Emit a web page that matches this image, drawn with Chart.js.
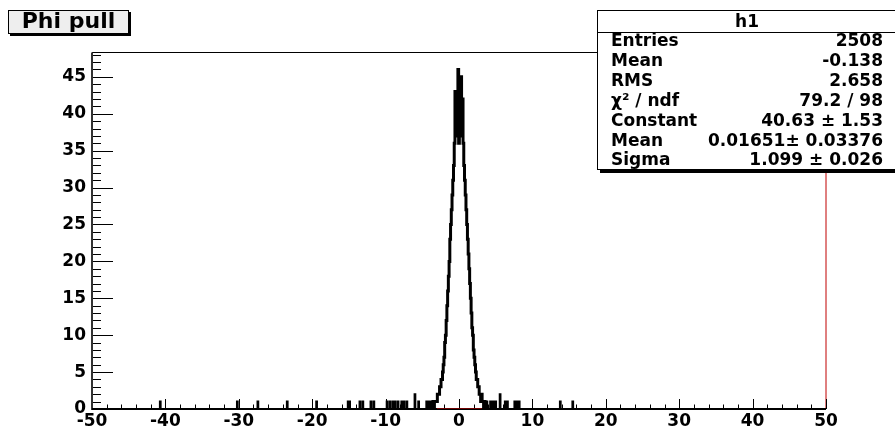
<!DOCTYPE html>
<html>
<head>
<meta charset="utf-8">
<script src="https://cdn.jsdelivr.net/npm/chart.js@4.4.1/dist/chart.umd.min.js"></script>
<style>
  body { margin: 0; background: #fff; }
  #wrap { position: relative; width: 895px; height: 429px; overflow: hidden; }
  #pull { position: absolute; left: 0; top: 0; }
  #title {
    position: absolute; left: 8px; top: 10px; width: 119px; height: 22px;
    border: 1px solid #000; box-shadow: 2px 2px 0 #000; background: #eee;
    font: bold 22px "DejaVu Sans"; line-height: 20px; text-align: center; color: #000;
  }
  #stats {
    position: absolute; left: 597px; top: 10px; width: 298px; height: 158px;
    border: 1px solid #000; box-shadow: 3px 3px 0 #000; background: #fff;
    font: bold 17px "DejaVu Sans"; color: #000;
  }
  #stats .hdr { height: 21px; line-height: 21px; text-align: center; border-bottom: 1px solid #000; }
  #stats .row {
    position: absolute; left: 13px; right: 13px; height: 20px; line-height: 20px;
    display: flex; justify-content: space-between; white-space: pre;
  }
</style>
</head>
<body>
<div id="wrap">
  <canvas id="pull" width="895" height="429"></canvas>
  <div id="title">Phi pull</div>
  <div id="stats"><div class="hdr">h1</div></div>
</div>
<script>
// histogram binning and axis labels
const binWidth = 0.1;
const xRange = [-50, 50];
const xTicks = [-50, -40, -30, -20, -10, 0, 10, 20, 30, 40, 50];
const yTicks = [0, 5, 10, 15, 20, 25, 30, 35, 40, 45];
const xMinorStep = 2;
const yMinorStep = 1;

// core of the distribution, bin contents from -3.6 to 3.6
const peakStart = -3.6;
const peakCounts = [
  0, 1, 0, 1, 1, 1, 1, 2, 2, 2,
  3, 3, 4, 4, 5, 6, 7, 9, 10, 12,
  14, 16, 18, 20, 23, 25, 27, 29, 31, 33,
  36, 43, 42, 37, 38, 46, 36, 38, 37, 45,
  41, 42, 36, 33, 31, 29, 27, 25, 23, 21,
  19, 17, 15, 13, 11, 10, 8, 7, 6, 5,
  4, 4, 3, 3, 2, 2, 1, 2, 1, 1,
  0, 1, 0
];

// isolated entries out in the tails
const tailX = [-40.7, -30.2, -27.4, -23.4, -19.4, -15.1, -14.9, -13.5, -13.1, -12.0,
  -11.6, -9.8, -9.4, -9.0, -8.7, -8.3, -7.8, -7.5, -7.1, -6.0,
  -5.5, -4.4, -4.1, -3.8, 3.8, 4.3, 4.5, 4.8, 5.0, 5.6,
  6.3, 6.6, 7.6, 7.9, 8.2, 13.8, 15.5];
const tailCounts = [1, 1, 1, 1, 1, 1, 1, 1, 1, 1,
  1, 1, 1, 1, 1, 1, 1, 1, 1, 2,
  1, 1, 1, 1, 1, 1, 1, 1, 1, 2,
  1, 1, 1, 1, 1, 1, 1];

// gaussian fit range, marked on the baseline
const fitRange = [-3.0, 3.1];

const statLabels = ['Entries', 'Mean', 'RMS', 'χ² / ndf', 'Constant', 'Mean', 'Sigma'];
const statValues = ['2508', '-0.138', '2.658', '79.2 / 98', '40.63 ± 1.53', '0.01651± 0.03376', '1.099 ± 0.026'];

// fill bins
const nPoints = Math.round((xRange[1] - xRange[0]) / binWidth) + 1;
const binOf = x => Math.round((x - xRange[0]) / binWidth);
const centerOf = i => Math.round((xRange[0] + i * binWidth) * 10) / 10;
const counts = new Array(nPoints).fill(0);
peakCounts.forEach((c, i) => { counts[binOf(peakStart + i * binWidth)] += c; });
tailX.forEach((x, i) => { counts[binOf(x)] += tailCounts[i]; });

const peakFirst = binOf(peakStart);
const peakLast = peakFirst + peakCounts.length - 1;
const peakPts = [];
const tailPts = [];
counts.forEach((c, i) => {
  const x = centerOf(i);
  if (i >= peakFirst && i <= peakLast) peakPts.push({ x, y: c });
  tailPts.push({ x, y: (i > peakFirst && i < peakLast) ? null : c });
});
const yMax = Math.max(...counts) * 1.05;

// stats box rows
const stats = document.getElementById('stats');
statLabels.forEach((lab, i) => {
  const row = document.createElement('div');
  row.className = 'row';
  row.style.top = (19 + i * 19.9) + 'px';
  const a = document.createElement('span');
  a.textContent = lab;
  const b = document.createElement('span');
  b.textContent = statValues[i];
  row.appendChild(a);
  row.appendChild(b);
  stats.appendChild(row);
});

// frame and inward tick marks
const rootFrame = {
  id: 'rootFrame',
  beforeDatasetsDraw(chart) {
    const { ctx, chartArea: a, scales: { x, y } } = chart;
    const seg = (x1, y1, x2, y2) => { ctx.beginPath(); ctx.moveTo(x1, y1); ctx.lineTo(x2, y2); ctx.stroke(); };
    ctx.save();
    ctx.lineWidth = 1;
    ctx.strokeStyle = '#000';
    seg(a.left, a.top, a.right, a.top);
    ctx.strokeStyle = '#c00000';
    seg(a.right, a.top, a.right, a.bottom);

    ctx.strokeStyle = '#000';
    for (let v = 0; v <= y.max; v += yMinorStep) {
      const py = Math.round(y.getPixelForValue(v)) + 0.5;
      seg(a.left, py, a.left + (v % 5 === 0 ? 21 : 9), py);
    }
    for (let v = xRange[0]; v <= xRange[1]; v += xMinorStep) {
      const px = Math.round(x.getPixelForValue(v)) + 0.5;
      seg(px, a.bottom, px, a.bottom - (v % 10 === 0 ? 10 : 4.5));
    }

    ctx.lineWidth = 2;
    ctx.strokeStyle = '#333';
    seg(a.left, a.top, a.left, a.bottom + 1);
    ctx.strokeStyle = '#000';
    seg(a.left, a.bottom, a.right, a.bottom);
    ctx.restore();
  }
};

const tickFont = { family: 'DejaVu Sans', size: 17, weight: 'bold' };

new Chart(document.getElementById('pull'), {
  type: 'line',
  data: {
    datasets: [
      {
        label: 'fit',
        data: fitRange.map(x => ({ x, y: 0 })),
        borderColor: '#e00000',
        borderWidth: 1.2,
        pointRadius: 0,
        order: 0
      },
      {
        label: 'peak',
        data: peakPts,
        borderColor: '#000',
        borderWidth: 3,
        stepped: 'middle',
        pointRadius: 0,
        order: 1
      },
      {
        label: 'tails',
        data: tailPts,
        borderColor: '#000',
        borderWidth: 2,
        stepped: 'middle',
        spanGaps: false,
        pointRadius: 0,
        order: 2
      }
    ]
  },
  options: {
    responsive: false,
    animation: false,
    events: [],
    layout: { padding: { left: 0, right: 69, top: 52.5, bottom: 0 } },
    plugins: { legend: { display: false }, tooltip: { enabled: false } },
    scales: {
      x: {
        type: 'linear',
        min: xRange[0],
        max: xRange[1],
        grid: { display: false, drawTicks: false },
        border: { display: false },
        afterBuildTicks: s => { s.ticks = xTicks.map(v => ({ value: v })); },
        afterFit: s => { s.height = 20; },
        ticks: { font: tickFont, color: '#000', padding: 2, maxRotation: 0, autoSkip: false }
      },
      y: {
        min: 0,
        max: yMax,
        grid: { display: false, drawTicks: false },
        border: { display: false },
        afterBuildTicks: s => { s.ticks = yTicks.map(v => ({ value: v })); },
        afterFit: s => { s.width = 92; },
        ticks: { font: tickFont, color: '#000', padding: 6 }
      }
    }
  },
  plugins: [rootFrame]
});
</script>
</body>
</html>
